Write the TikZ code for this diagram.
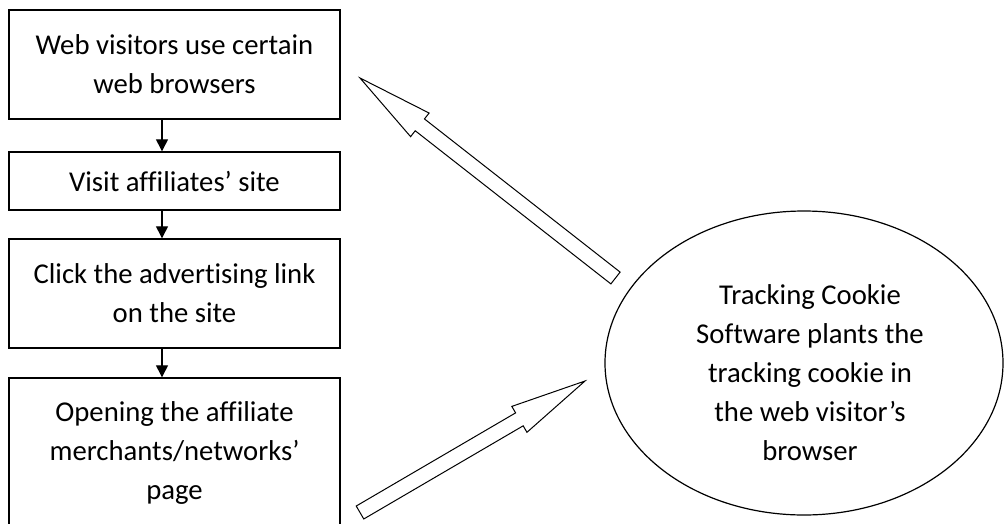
\documentclass[tikz,border=0pt]{standalone}
\usepackage{fontspec}
\setmainfont[Ligatures=NoCommon]{Carlito}
\usetikzlibrary{shapes.geometric,calc,arrows.meta}
\newcommand\myblockarrow[2]{%
  \coordinate (h) at ($(#2)!76pt!(#1)$);
  \draw[blockarrow] ($(#1)!7.5pt!90:(#2)$) -- ($(h)!7.5pt!90:(#2)$) -- ($(h)!15pt!90:(#2)$)
    -- (#2) -- ($(h)!15pt!-90:(#2)$) -- ($(h)!7.5pt!-90:(#2)$) -- ($(#1)!7.5pt!-90:(#2)$) -- cycle;
}
\begin{document}
\begin{tikzpicture}[x=1pt,y=-1pt,
  txt/.style={font=\fontsize{28.7}{39}\selectfont,align=center},
  box/.style={draw,line width=1.4pt,minimum width=331pt,inner sep=0pt,txt},
  flow/.style={line width=1.3pt,-{Triangle[length=12pt,width=12pt]}},
  blockarrow/.style={draw,line width=1pt,line join=miter}]
\useasboundingbox (0,0) rectangle (1005,523);
\node[box,minimum height=109pt] (b1) at (174.5,64.5) {Web visitors use certain\\web browsers};
\node[box,minimum height=58pt] (b2) at (174.5,181) {Visit affiliates’ site};
\node[box,minimum height=109pt] (b3) at (174.5,293.5) {Click the advertising link\\on the site};
\node[box,minimum height=150pt] (b4) at (174.5,453) {Opening the affiliate\\merchants/networks’\\page};
\node[draw,line width=1.2pt,ellipse,minimum width=398pt,minimum height=304pt,inner sep=0pt] (el) at (804,363) {};
\node[txt] (eltext) at (810,373) {Tracking Cookie\\Software plants the\\tracking cookie in\\the web visitor’s\\browser};
\draw[flow] ($(b1.south)+(-12.5,0)$) -- ($(b2.north)+(-12.5,0)$);
\draw[flow] ($(b2.south)+(-12.5,0)$) -- ($(b3.north)+(-12.5,0)$);
\draw[flow] ($(b3.south)+(-12.5,0)$) -- ($(b4.north)+(-12.5,0)$);
\coordinate (t1) at (615.5,278);
\coordinate (p1) at (360,78);
\coordinate (t2) at (360,512.5);
\coordinate (p2) at (585,381);
\myblockarrow{t1}{p1}
\myblockarrow{t2}{p2}
\end{tikzpicture}
\end{document}
